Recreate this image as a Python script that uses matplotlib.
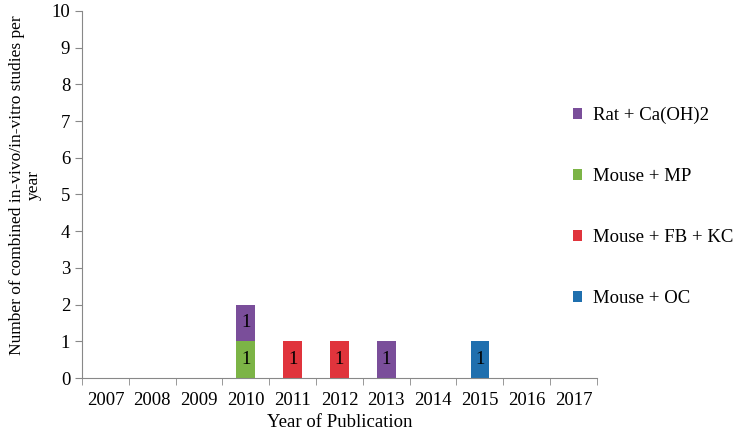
import numpy as np
import matplotlib.pyplot as plt

plt.rcParams['font.family'] = ['Liberation Serif', 'DejaVu Serif']

years = ['2007', '2008', '2009', '2010', '2011', '2012', '2013', '2014', '2015', '2016', '2017']
mouse_oc = [0, 0, 0, 0, 0, 0, 0, 0, 1, 0, 0]
mouse_fb_kc = [0, 0, 0, 0, 1, 1, 0, 0, 0, 0, 0]
mouse_mp = [0, 0, 0, 1, 0, 0, 0, 0, 0, 0, 0]
rat_caoh2 = [0, 0, 0, 1, 0, 0, 1, 0, 0, 0, 0]

series = [
    ('Mouse + OC', mouse_oc, '#1f6fae'),
    ('Mouse + FB + KC', mouse_fb_kc, '#e0343c'),
    ('Mouse + MP', mouse_mp, '#7cb446'),
    ('Rat + Ca(OH)2', rat_caoh2, '#7a4e9a'),
]

fs = 13.5

fig = plt.figure(figsize=(7.42, 4.36), dpi=100)
ax = fig.add_axes([0.1105, 0.133, 0.694, 0.842])

x = np.arange(len(years))
bottom = np.zeros(len(years))
handles = []
for name, vals, col in series:
    vals = np.array(vals)
    b = ax.bar(x, vals, 0.4, bottom=bottom, color=col, label=name)
    handles.append(b)
    for xi, v, bt in zip(x, vals, bottom):
        if v > 0:
            ax.text(xi, bt + v / 2, str(v), ha='center', va='center', fontsize=fs)
    bottom += vals

ax.set_xlim(-0.5, len(years) - 0.5)
ax.set_ylim(0, 10)
ax.set_yticks(range(0, 11))
ax.set_xticks(x)
ax.set_xticklabels(years)
ax.set_xticks(np.arange(-0.5, len(years)), minor=True)
ax.tick_params(axis='x', which='major', length=0, labelsize=fs, pad=10)
ax.tick_params(axis='x', which='minor', length=5, color='#888888')
ax.tick_params(axis='y', length=5, color='#888888', labelsize=fs)
for s in ['top', 'right']:
    ax.spines[s].set_visible(False)
for s in ['left', 'bottom']:
    ax.spines[s].set_color('#888888')

ax.set_xlabel('Year of Publication', fontsize=fs, labelpad=4)
ax.set_ylabel('Number of combined in-vivo/in-vitro studies per\nyear', fontsize=12.5,
              labelpad=7, linespacing=1.1)
ax.yaxis.label.set_y(0.526)

fig.legend(handles[::-1], [s[0] for s in series][::-1], loc='upper left',
           bbox_to_anchor=(0.772, 0.755), frameon=False, fontsize=fs,
           handlelength=0.5, handleheight=0.5, handletextpad=0.6, labelspacing=2.35,
           borderaxespad=0, borderpad=0)

fig.savefig('out.png', dpi=100)
